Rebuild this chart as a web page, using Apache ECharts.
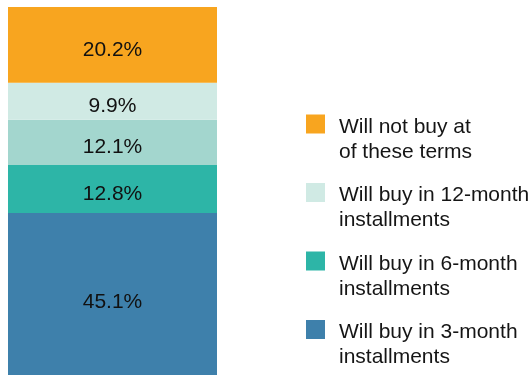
<!DOCTYPE html>
<html>
<head>
<meta charset="utf-8">
<script src="https://cdn.jsdelivr.net/npm/echarts@6/dist/echarts.min.js"></script>
<style>
  html, body { margin: 0; padding: 0; background: #ffffff; }
  #chart { width: 531px; height: 375px; }
</style>
</head>
<body>
<div id="chart"></div>
<script>
// Segments, bottom to top of the single stacked bar
const seriesNames = [
  'Will buy in 3-month\ninstallments',
  'Will buy in 6-month\ninstallments',
  'Other installment terms',
  'Will buy in 12-month\ninstallments',
  'Will not buy at\nof these terms'
];
const seriesValues = [45.1, 12.8, 12.1, 9.9, 20.2];
const seriesColors = ['#3e80ab', '#2db5a7', '#a3d6ce', '#d0eae4', '#f8a51f'];

// Legend entries, top to bottom
const legendNames = [
  'Will not buy at\nof these terms',
  'Will buy in 12-month\ninstallments',
  'Will buy in 6-month\ninstallments',
  'Will buy in 3-month\ninstallments'
];

const categories = ['Share'];
const total = seriesValues.reduce((a, b) => a + b, 0);
const FONT = '"Liberation Sans", Arial, Helvetica, sans-serif';

const chart = echarts.init(document.getElementById('chart'), null, { renderer: 'canvas' });

chart.setOption({
  animation: false,
  backgroundColor: '#ffffff',
  // the bar runs past the lower edge of the canvas
  grid: {
    left: 8, width: 209, top: 7, height: 375,
    containLabel: false,
    outerBoundsMode: 'none'
  },
  xAxis: { type: 'category', data: categories, show: false },
  yAxis: { type: 'value', min: 0, max: Math.round(total * 10) / 10, show: false },
  legend: {
    data: legendNames,
    orient: 'vertical',
    left: 306,
    top: 86,
    padding: 0,
    itemWidth: 19,
    itemHeight: 19,
    itemGap: -8,
    icon: 'rect',
    selectedMode: false,
    // a leading spacer line keeps the swatch level with the first text line
    formatter: name => '{gap|.}\n' + name.split('\n').map(s => '{t|' + s + '}').join('\n'),
    textStyle: {
      fontFamily: FONT,
      fontSize: 21,
      color: '#151515',
      padding: [0, 0, 0, 9],
      rich: {
        gap: { fontSize: 26, lineHeight: 31, fontFamily: FONT, color: 'rgba(0,0,0,0)' },
        t: { fontSize: 21, lineHeight: 25, fontFamily: FONT, color: '#151515' }
      }
    }
  },
  series: seriesNames.map((name, i) => ({
    name: name,
    type: 'bar',
    stack: 'total',
    barWidth: '100%',
    data: [seriesValues[i]],
    itemStyle: { color: seriesColors[i] },
    label: {
      show: true,
      position: 'inside',
      offset: [0, 5],
      formatter: '{c}%',
      fontFamily: FONT,
      fontSize: 21,
      color: '#111111'
    }
  }))
});
</script>
</body>
</html>
